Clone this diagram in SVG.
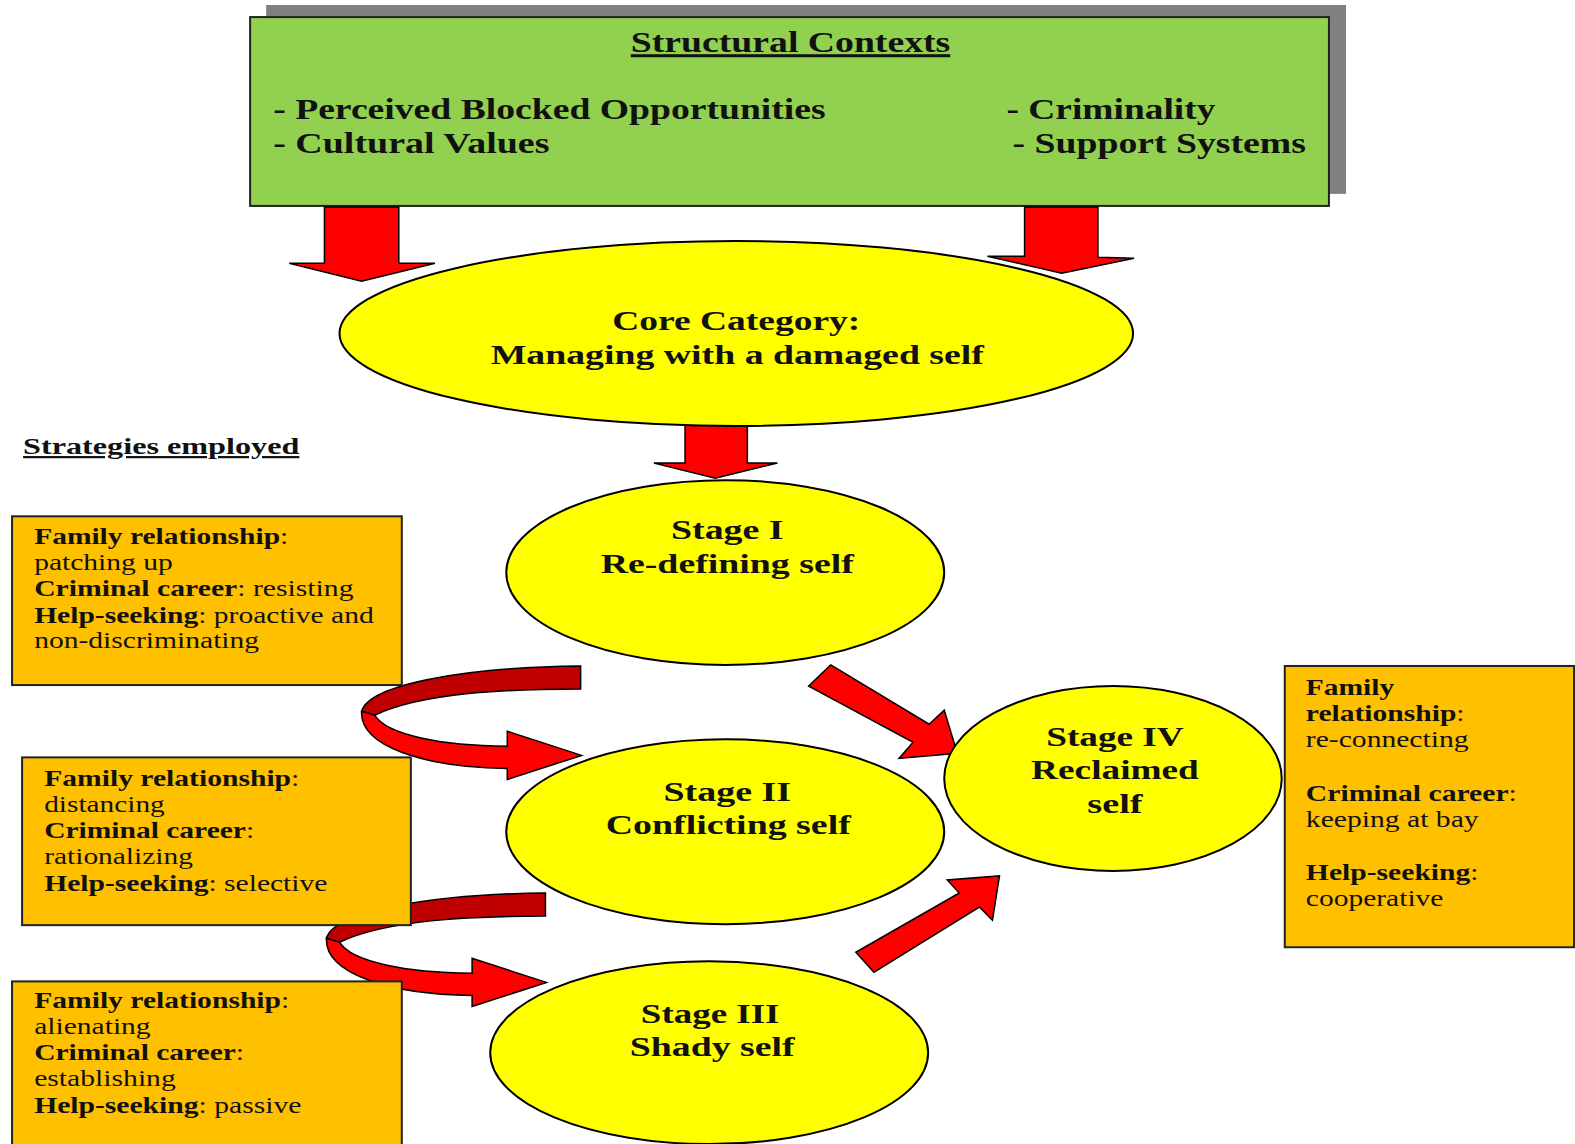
<svg xmlns="http://www.w3.org/2000/svg" width="1575" height="1144" viewBox="0 0 1575 1144">
<style>
.t{font-family:"Times New Roman","Liberation Serif",Tinos,serif;fill:#111;}
.b{font-weight:bold;}
.big{font-size:30px;font-weight:bold;}
.mid{font-size:28px;font-weight:bold;}
.sm{font-size:22px;}
.u{text-decoration:underline;}
.ell{fill:#FFFF00;stroke:#000;stroke-width:2;}
.obox{fill:#FFC000;stroke:#222;stroke-width:2;}
.arr{fill:#FF0000;stroke:#000;stroke-width:1.5;stroke-linejoin:miter;}
.arrd{fill:#C00000;stroke:#000;stroke-width:1.5;}
</style>
<rect width="1575" height="1144" fill="#fff"/>
<g transform="scale(1.0045)">
<g id="structural-contexts">
<rect x="265" y="5" width="1075" height="188" fill="#808080"/>
<rect x="249" y="17" width="1074" height="188" fill="#92D050" stroke="#222" stroke-width="2"/>
<text class="t big u" x="787" y="52" text-anchor="middle" textLength="318" lengthAdjust="spacingAndGlyphs">Structural Contexts</text>
<text class="t big" x="272" y="118" textLength="550" lengthAdjust="spacingAndGlyphs">- Perceived Blocked Opportunities</text>
<text class="t big" x="272" y="152" textLength="275" lengthAdjust="spacingAndGlyphs">- Cultural Values</text>
<text class="t big" x="1002" y="118" textLength="208" lengthAdjust="spacingAndGlyphs">- Criminality</text>
<text class="t big" x="1008" y="152" textLength="292" lengthAdjust="spacingAndGlyphs">- Support Systems</text>
</g>
<g id="connectors">
<polygon class="arr" points="323,206 397,206 397,262 433,262 360,280 288,262 323,262"/>
<polygon class="arr" points="1020,206 1093,206 1093,256 1129,257 1057,272 983,255 1020,255"/>
<polygon class="arr" points="682,421 744,421 744,461 774,461 712,476 651,461 682,461"/>
<polygon class="arr" points="827,662 925,721 940,707 953,750 895,755 909,739 805,683"/>
<polygon class="arr" points="852,948 955,889 943,876 995,872 988,916 975,903 870,968"/>
<g id="curve1">
<path class="arrd" d="M578,663 L578,686 C500,686 420,690 373,712 L360,708 C368,680 470,664 578,663 Z"/>
<path class="arr" d="M360,708 L373,712 C385,732 440,742 505,743 L505,728 L579,752 L505,776 L505,765 C420,764 358,742 360,708 Z"/>
</g>
<g id="curve2" transform="translate(-35,226)">
<path class="arrd" d="M578,663 L578,686 C500,686 420,690 373,712 L360,708 C368,680 470,664 578,663 Z"/>
<path class="arr" d="M360,708 L373,712 C385,732 440,742 505,743 L505,728 L579,752 L505,776 L505,765 C420,764 358,742 360,708 Z"/>
</g>
</g>
<g id="core-category">
<ellipse class="ell" cx="733" cy="332" rx="395" ry="92"/>
<text class="t mid" x="733" y="329" text-anchor="middle" textLength="247" lengthAdjust="spacingAndGlyphs">Core Category:</text>
<text class="t mid" x="734" y="362" text-anchor="middle" textLength="491" lengthAdjust="spacingAndGlyphs">Managing with a damaged self</text>
</g>
<g id="strategies-label">
<text class="t b u" x="23" y="452" font-size="22" textLength="275" lengthAdjust="spacingAndGlyphs">Strategies employed</text>
</g>
<g id="stage1">
<ellipse class="ell" cx="722" cy="570" rx="218" ry="92"/>
<text class="t mid" x="724" y="537" text-anchor="middle" textLength="112" lengthAdjust="spacingAndGlyphs">Stage I</text>
<text class="t mid" x="724" y="570" text-anchor="middle" textLength="252" lengthAdjust="spacingAndGlyphs">Re-defining self</text>
</g>
<g id="stage2">
<ellipse class="ell" cx="722" cy="828" rx="218" ry="92"/>
<text class="t mid" x="724" y="797" text-anchor="middle" textLength="127" lengthAdjust="spacingAndGlyphs">Stage II</text>
<text class="t mid" x="725" y="830" text-anchor="middle" textLength="244" lengthAdjust="spacingAndGlyphs">Conflicting self</text>
</g>
<g id="stage3">
<ellipse class="ell" cx="706" cy="1048" rx="218" ry="91"/>
<text class="t mid" x="707" y="1018" text-anchor="middle" textLength="138" lengthAdjust="spacingAndGlyphs">Stage III</text>
<text class="t mid" x="709" y="1051" text-anchor="middle" textLength="164" lengthAdjust="spacingAndGlyphs">Shady self</text>
</g>
<g id="stage4">
<ellipse class="ell" cx="1108" cy="775" rx="168" ry="92"/>
<text class="t mid" x="1110" y="743" text-anchor="middle" textLength="137" lengthAdjust="spacingAndGlyphs">Stage IV</text>
<text class="t mid" x="1110" y="776" text-anchor="middle" textLength="167" lengthAdjust="spacingAndGlyphs">Reclaimed</text>
<text class="t mid" x="1110" y="809" text-anchor="middle" textLength="55" lengthAdjust="spacingAndGlyphs">self</text>
</g>
<g id="strategies-stage1">
<rect class="obox" x="12" y="514" width="388" height="168"/>
<text class="t sm" x="34" y="542" textLength="253" lengthAdjust="spacingAndGlyphs"><tspan class="b">Family relationship</tspan>:</text>
<text class="t sm" x="34" y="567" textLength="138" lengthAdjust="spacingAndGlyphs">patching up</text>
<text class="t sm" x="34" y="593" textLength="318" lengthAdjust="spacingAndGlyphs"><tspan class="b">Criminal career</tspan>: resisting</text>
<text class="t sm" x="34" y="620" textLength="338" lengthAdjust="spacingAndGlyphs"><tspan class="b">Help-seeking</tspan>: proactive and</text>
<text class="t sm" x="34" y="645" textLength="224" lengthAdjust="spacingAndGlyphs">non-discriminating</text>
</g>
<g id="strategies-stage2">
<rect class="obox" x="22" y="754" width="387" height="167"/>
<text class="t sm" x="44" y="782" textLength="254" lengthAdjust="spacingAndGlyphs"><tspan class="b">Family relationship</tspan>:</text>
<text class="t sm" x="44" y="808" textLength="120" lengthAdjust="spacingAndGlyphs">distancing</text>
<text class="t sm" x="44" y="834" textLength="209" lengthAdjust="spacingAndGlyphs"><tspan class="b">Criminal career</tspan>:</text>
<text class="t sm" x="44" y="860" textLength="148" lengthAdjust="spacingAndGlyphs">rationalizing</text>
<text class="t sm" x="44" y="887" textLength="282" lengthAdjust="spacingAndGlyphs"><tspan class="b">Help-seeking</tspan>: selective</text>
</g>
<g id="strategies-stage3">
<rect class="obox" x="12" y="977" width="388" height="170"/>
<text class="t sm" x="34" y="1003" textLength="254" lengthAdjust="spacingAndGlyphs"><tspan class="b">Family relationship</tspan>:</text>
<text class="t sm" x="34" y="1029" textLength="116" lengthAdjust="spacingAndGlyphs">alienating</text>
<text class="t sm" x="34" y="1055" textLength="209" lengthAdjust="spacingAndGlyphs"><tspan class="b">Criminal career</tspan>:</text>
<text class="t sm" x="34" y="1081" textLength="141" lengthAdjust="spacingAndGlyphs">establishing</text>
<text class="t sm" x="34" y="1108" textLength="266" lengthAdjust="spacingAndGlyphs"><tspan class="b">Help-seeking</tspan>: passive</text>
</g>
<g id="strategies-stage4">
<rect class="obox" x="1279" y="663" width="288" height="280"/>
<text class="t sm b" x="1300" y="692" textLength="88" lengthAdjust="spacingAndGlyphs">Family</text>
<text class="t sm" x="1300" y="718" textLength="158" lengthAdjust="spacingAndGlyphs"><tspan class="b">relationship</tspan>:</text>
<text class="t sm" x="1300" y="744" textLength="162" lengthAdjust="spacingAndGlyphs">re-connecting</text>
<text class="t sm" x="1300" y="797" textLength="210" lengthAdjust="spacingAndGlyphs"><tspan class="b">Criminal career</tspan>:</text>
<text class="t sm" x="1300" y="823" textLength="172" lengthAdjust="spacingAndGlyphs">keeping at bay</text>
<text class="t sm" x="1300" y="876" textLength="172" lengthAdjust="spacingAndGlyphs"><tspan class="b">Help-seeking</tspan>:</text>
<text class="t sm" x="1300" y="902" textLength="137" lengthAdjust="spacingAndGlyphs">cooperative</text>
</g>
</g>
</svg>
